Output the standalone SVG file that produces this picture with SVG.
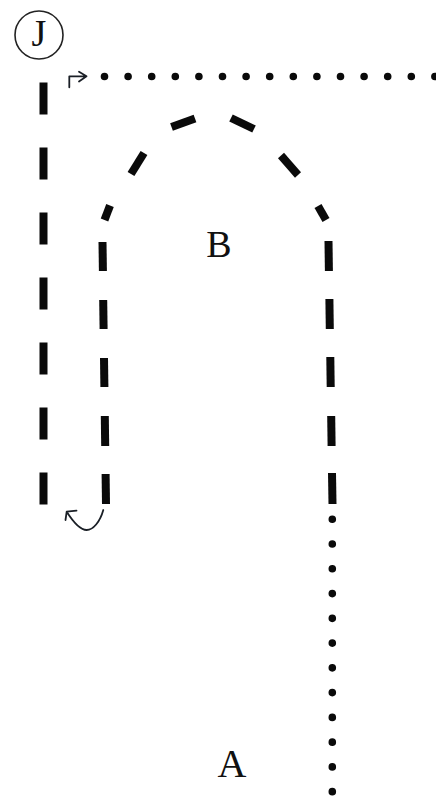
<svg xmlns="http://www.w3.org/2000/svg" width="436" height="798" viewBox="0 0 436 798">
<style>
.lbl{font-family:"Liberation Serif","Times New Roman",serif;fill:#111;text-anchor:middle}
.dash{stroke:#0a0a0a;stroke-width:8;stroke-linecap:butt;fill:none}
.dots{stroke:#0a0a0a;stroke-width:7.6;stroke-linecap:round;fill:none}
.thin{stroke:#1a1f26;stroke-width:1.8;fill:none;stroke-linecap:round;stroke-linejoin:round}
</style>
<rect width="436" height="798" fill="#fff"/>
<g id="connectors">
  <line class="dash" x1="43.5" y1="82.5" x2="43.5" y2="504.5" stroke-width="7" stroke-dasharray="32 33"/>
  <g id="arch">
    <line class="dash" x1="106" y1="504" x2="105.6" y2="474"/>
    <line class="dash" x1="105.2" y1="446" x2="104.8" y2="416"/>
    <line class="dash" x1="104.4" y1="387" x2="104" y2="358"/>
    <line class="dash" x1="103.6" y1="329" x2="103.2" y2="300"/>
    <line class="dash" x1="102.9" y1="271" x2="102.5" y2="242"/>
    <line class="dash" x1="104.5" y1="220" x2="110" y2="205.5"/>
    <line class="dash" x1="131" y1="174" x2="144" y2="153"/>
    <line class="dash" x1="171.5" y1="127" x2="195" y2="118.5"/>
    <line class="dash" x1="231" y1="118" x2="254" y2="129"/>
    <line class="dash" x1="281" y1="155.5" x2="298" y2="175"/>
    <line class="dash" x1="318" y1="206" x2="326" y2="220"/>
    <line class="dash" x1="328.5" y1="241" x2="328.9" y2="271"/>
    <line class="dash" x1="329.4" y1="299" x2="329.8" y2="329"/>
    <line class="dash" x1="330.3" y1="357" x2="330.7" y2="387"/>
    <line class="dash" x1="331.2" y1="416" x2="331.6" y2="446"/>
    <line class="dash" x1="332" y1="473" x2="332.5" y2="504"/>
  </g>
  <line class="dots" x1="104.5" y1="76.5" x2="436" y2="76.5" stroke-dasharray="0 23.6"/>
  <line class="dots" x1="332.3" y1="519.3" x2="332.3" y2="795" stroke-dasharray="0 24.76"/>
  <path class="thin" d="M69.3 87.3 V76.3 H86.5 M79 71.8 L86.5 76.3 L79 81.5"/>
  <path class="thin" d="M103.3 510 C100 522 93 530 86.7 530 C79 530 72 520 66.7 511.7 M66.7 511.7 L76.5 510.7 M66.7 511.7 L65.5 520"/>
</g>
<g id="node-J">
  <circle cx="39" cy="35" r="24" fill="none" stroke="#222" stroke-width="1.6"/>
  <text class="lbl" x="39" y="46" font-size="38">J</text>
</g>
<g id="node-B">
  <text class="lbl" x="219" y="257" font-size="38">B</text>
</g>
<g id="node-A">
  <text class="lbl" x="232" y="777" font-size="40">A</text>
</g>
</svg>
